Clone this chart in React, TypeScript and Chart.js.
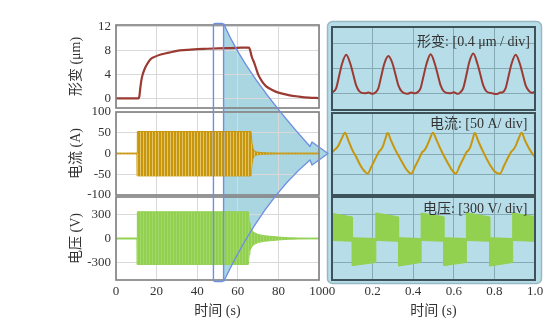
import React, { useEffect, useRef } from "react";
import { Chart, registerables } from "chart.js";

Chart.register(...registerables);

const SERIF = "'Liberation Serif', 'Noto Sans CJK SC', serif";
const TEXT = "#333333";

// ---------- left: whole record, 0–100 s ----------
const STRAIN_T = [0, 5, 10, 11, 11.5, 12, 12.5, 13, 14, 15, 17, 19, 22, 26, 30, 35, 40, 45, 50, 55, 60, 63, 65.5, 66, 66.5, 67, 68, 69, 70, 71, 72, 74, 77, 80, 85, 90, 95, 100];
const STRAIN_V = [0, 0, 0, 0, 0.3, 1.8, 3.0, 3.8, 4.8, 5.5, 6.5, 6.9, 7.3, 7.6, 7.9, 8.05, 8.2, 8.25, 8.3, 8.35, 8.4, 8.45, 8.45, 8.1, 7.4, 6.8, 6.0, 5.0, 4.0, 3.35, 2.8, 2.0, 1.4, 0.95, 0.55, 0.3, 0.12, 0.05];

const CURRENT_ENV_T = [0, 10.4, 10.5, 66.5, 67, 67.5, 68, 69, 70, 72, 75, 80, 90, 100];
const CURRENT_ENV_UP = [1, 1, 53, 53, 25, 12, 7, 4, 3, 2, 1.5, 1, 1, 1];
const CURRENT_ENV_LO = [-1, -1, -54, -54, -25, -12, -7, -4, -3, -2, -1.5, -1, -1, -1];

const VOLT_ENV_T = [0, 10.4, 10.5, 65.2, 65.6, 66, 67, 68, 70, 73, 76, 80, 85, 90, 95, 100];
const VOLT_ENV_UP = [6, 6, 335, 335, 200, 150, 100, 75, 50, 35, 28, 18, 10, 6, 5, 5];
const VOLT_ENV_LO = [-6, -6, -325, -325, -200, -150, -100, -75, -50, -35, -28, -18, -10, -6, -5, -5];

// ---------- right: detail, 0–1 s ----------
const ZSTRAIN_T = [0, 0.02, 0.035, 0.05, 0.07, 0.09, 0.105, 0.12, 0.135, 0.16, 0.18, 0.2, 0.213, 0.228, 0.243, 0.258, 0.278, 0.298, 0.313, 0.328, 0.343, 0.37, 0.39, 0.41, 0.421, 0.436, 0.451, 0.466, 0.486, 0.506, 0.521, 0.536, 0.551, 0.58, 0.6, 0.62, 0.631, 0.646, 0.661, 0.676, 0.696, 0.716, 0.731, 0.746, 0.761, 0.79, 0.81, 0.83, 0.84, 0.855, 0.87, 0.885, 0.905, 0.925, 0.94, 0.955, 0.97, 0.985, 1.0];
const ZSTRAIN_V = [0.03, 0.2, 0.7, 1.2, 1.55, 1.2, 0.75, 0.3, 0.08, 0.0, 0.03, -0.02, 0.03, 0.2, 0.7, 1.2, 1.5, 1.2, 0.75, 0.3, 0.08, -0.02, 0.03, 0.0, 0.04, 0.2, 0.7, 1.2, 1.57, 1.2, 0.75, 0.3, 0.08, 0.0, 0.04, -0.02, 0.03, 0.2, 0.7, 1.25, 1.6, 1.2, 0.75, 0.3, 0.08, 0.0, -0.03, 0.03, 0.04, 0.2, 0.7, 1.2, 1.55, 1.2, 0.75, 0.3, 0.1, 0.02, 0.07];

const ZCURRENT_T = [0, 0.012, 0.022, 0.035, 0.05, 0.064, 0.08, 0.1, 0.12, 0.14, 0.16, 0.175, 0.195, 0.215, 0.232, 0.24, 0.25, 0.262, 0.274, 0.29, 0.31, 0.33, 0.35, 0.37, 0.39, 0.41, 0.43, 0.445, 0.455, 0.465, 0.48, 0.497, 0.515, 0.535, 0.555, 0.575, 0.595, 0.609, 0.63, 0.65, 0.663, 0.672, 0.682, 0.693, 0.703, 0.72, 0.74, 0.76, 0.78, 0.8, 0.827, 0.848, 0.868, 0.882, 0.892, 0.903, 0.918, 0.934, 0.95, 0.97, 0.985, 1.0];
const ZCURRENT_V = [4, 10, 14, 24, 40, 52, 34, 10, -8, -28, -42, -48, -30, -10, 6, 10, 18, 36, 51, 34, 12, -6, -24, -40, -48, -30, -10, 5, 9, 17, 34, 52, 34, 12, -8, -26, -42, -48, -28, -8, 5, 9, 18, 36, 51, 32, 10, -10, -28, -42, -48, -28, -8, 5, 10, 18, 36, 52, 34, 14, 2, -7];

const ZVOLT_T = [0, 0.1, 0.1, 0.216, 0.216, 0.328, 0.328, 0.439, 0.439, 0.551, 0.551, 0.662, 0.662, 0.777, 0.777, 0.89, 0.89, 1.0];
const ZVOLT_UP = [315, 270, 10, 0, 320, 270, 10, 0, 320, 272, 10, 0, 322, 270, 10, 0, 320, 275];
const ZVOLT_LO = [-25, -35, -340, -300, -25, -35, -345, -300, -25, -35, -340, -300, -25, -35, -345, -300, -25, -35];

// ---------- ticks / labels ----------
const LEFT_X_RANGE = [0, 100];
const LEFT_X_STEP = 20;
const RIGHT_X_RANGE = [0, 1];
const RIGHT_X_STEP = 0.2;
const RIGHT_X_TICK_LABELS = ["0", "0.2", "0.4", "0.6", "0.8", "1.0"];
const STRAIN_RANGE = [-1.6, 12.2];
const STRAIN_STEP = 4;
const CURRENT_RANGE = [-100, 100];
const CURRENT_STEP = 50;
const VOLT_RANGE = [-520, 520];
const VOLT_STEP = 300;
const ZSTRAIN_RANGE = [-0.67, 2.67];
const ZSTRAIN_STEP = 1;
const ZOOM_START = 48;
const ZOOM_END = 53;
const Y_TITLES = ["形变 (μm)", "电流 (A)", "电压 (V)"];
const X_TITLE = "时间 (s)";
const PANEL_LABELS = ["形变: [0.4 μm / div]", "电流: [50 A/ div]", "电压: [300 V/ div]"];

const STRAIN_COLOR = "#9b3a33";
const CURRENT_COLOR = "#c8960c";
const VOLT_COLOR = "#92d050";

const pts = (t: number[], v: number[]) => t.map((x, i) => ({ x, y: v[i] }));

const framePlugin = (color: string, width: number) => ({
  id: "frame",
  afterDraw(chart: any) {
    const { ctx, chartArea } = chart;
    const { left, top, right, bottom } = chartArea;
    ctx.save();
    ctx.strokeStyle = color;
    ctx.lineWidth = width;
    ctx.strokeRect(left, top, right - left, bottom - top);
    ctx.restore();
  },
});

function leftY(range: number[], step: number, title: string) {
  return {
    type: "linear",
    min: range[0],
    max: range[1],
    afterFit: (s: any) => {
      s.width = 116;
    },
    ticks: { stepSize: step, includeBounds: false, padding: 5, color: TEXT, font: { family: SERIF, size: 13 } },
    grid: { color: "#d9d9d9", drawTicks: false },
    border: { display: false },
    title: { display: true, text: title, color: TEXT, font: { family: SERIF, size: 14 }, padding: { top: 68, bottom: 0 } },
  };
}

function rightY(range: number[], step: number) {
  return {
    type: "linear",
    min: range[0],
    max: range[1],
    afterFit: (s: any) => {
      s.width = 0;
    },
    ticks: { display: false, stepSize: step, includeBounds: false },
    grid: { color: "#86aab3", drawTicks: false },
    border: { display: false },
  };
}

function xAxis(range: number[], step: number, labelled: boolean, gridColor: string, labels?: string[]) {
  return {
    type: "linear",
    min: range[0],
    max: range[1],
    afterFit: (s: any) => {
      s.height = labelled ? 46 : 0;
    },
    ticks: {
      display: labelled,
      stepSize: step,
      padding: 4,
      color: TEXT,
      font: { family: SERIF, size: 13 },
      maxRotation: 0,
      autoSkip: false,
      callback: (v: number, i: number) => (labels ? labels[i] : String(v)),
    },
    grid: { color: gridColor, drawTicks: false },
    border: { display: false },
    title: labelled
      ? { display: true, text: X_TITLE, color: TEXT, font: { family: SERIF, size: 14 }, padding: { top: 0, bottom: 6 } }
      : { display: false },
  };
}

function config(datasets: any[], x: any, y: any, padding: any, frame: any) {
  return {
    type: "line",
    data: { datasets },
    options: {
      animation: false,
      responsive: false,
      maintainAspectRatio: false,
      devicePixelRatio: 1,
      events: [],
      layout: { padding },
      elements: { point: { radius: 0 }, line: { tension: 0 } },
      plugins: { legend: { display: false }, tooltip: { enabled: false }, title: { display: false } },
      scales: { x, y },
    },
    plugins: [frame],
  };
}

const LEFT_GRID = "#d9d9d9";
const RIGHT_GRID = "#86aab3";
const leftFrame = framePlugin("#858585", 1.7);
const rightFrame = framePlugin("#3e5359", 2);

// vertical striping to mimic the densely sampled oscillation
function stripes(base: string, gap: string) {
  const c = document.createElement("canvas");
  c.width = 3;
  c.height = 1;
  const g = c.getContext("2d")!;
  g.fillStyle = base;
  g.fillRect(0, 0, 2, 1);
  g.fillStyle = gap;
  g.fillRect(2, 0, 1, 1);
  return g.createPattern(c, "repeat");
}

function envelope(t: number[], up: number[], lo: number[], color: string, fillStyle: any) {
  return [
    { data: pts(t, up), borderColor: color, backgroundColor: fillStyle, borderWidth: 1, fill: "+1" },
    { data: pts(t, lo), borderColor: color, backgroundColor: fillStyle, borderWidth: 1, fill: false },
  ];
}

function buildConfigs() {
  const lx = (lab: boolean) => xAxis(LEFT_X_RANGE, LEFT_X_STEP, lab, LEFT_GRID);
  const rx = (lab: boolean) => xAxis(RIGHT_X_RANGE, RIGHT_X_STEP, lab, RIGHT_GRID, RIGHT_X_TICK_LABELS);
  const LP = (top: number, bottom: number) => ({ left: 0, right: 554 - 319, top, bottom });
  const RP = (top: number, bottom: number) => ({ left: 332, right: 554 - 535, top, bottom });
  const goldStripes = stripes(CURRENT_COLOR, "#e2c468");
  const greenStripes = stripes(VOLT_COLOR, "#a2d86a");
  return [
    config(
      [{ data: pts(STRAIN_T, STRAIN_V), borderColor: STRAIN_COLOR, borderWidth: 2.2, cubicInterpolationMode: "monotone", fill: false }],
      lx(false),
      leftY(STRAIN_RANGE, STRAIN_STEP, Y_TITLES[0]),
      LP(25, 326 - 108),
      leftFrame
    ),
    config(
      envelope(CURRENT_ENV_T, CURRENT_ENV_UP, CURRENT_ENV_LO, CURRENT_COLOR, goldStripes),
      lx(false),
      leftY(CURRENT_RANGE, CURRENT_STEP, Y_TITLES[1]),
      LP(112, 326 - 195),
      leftFrame
    ),
    config(
      envelope(VOLT_ENV_T, VOLT_ENV_UP, VOLT_ENV_LO, VOLT_COLOR, greenStripes),
      lx(true),
      leftY(VOLT_RANGE, VOLT_STEP, Y_TITLES[2]),
      LP(197, 0),
      leftFrame
    ),
    config(
      [{ data: pts(ZSTRAIN_T, ZSTRAIN_V), borderColor: STRAIN_COLOR, borderWidth: 2, cubicInterpolationMode: "monotone", fill: false }],
      rx(false),
      rightY(ZSTRAIN_RANGE, ZSTRAIN_STEP),
      RP(27, 326 - 110),
      rightFrame
    ),
    config(
      [{ data: pts(ZCURRENT_T, ZCURRENT_V), borderColor: CURRENT_COLOR, borderWidth: 2, cubicInterpolationMode: "monotone", fill: false }],
      rx(false),
      rightY(CURRENT_RANGE, CURRENT_STEP),
      RP(113, 326 - 195),
      rightFrame
    ),
    config(
      envelope(ZVOLT_T, ZVOLT_UP, ZVOLT_LO, VOLT_COLOR, VOLT_COLOR),
      rx(true),
      rightY(VOLT_RANGE, VOLT_STEP),
      RP(197, 0),
      rightFrame
    ),
  ];
}

function drawDecor(bg: HTMLCanvasElement, fg: HTMLCanvasElement, charts: any[]) {
  const [lt, lm, lb, rt, , rb] = charts;
  const xs = lb.scales.x;
  const x0 = xs.getPixelForValue(ZOOM_START);
  const x1 = xs.getPixelForValue(ZOOM_END);
  const yTop = lt.chartArea.top - 1.5;
  const yBot = lb.chartArea.bottom + 1.5;
  const midY = lm.scales.y.getPixelForValue(0);
  const pL = rt.chartArea.left - 5;
  const pR = rt.chartArea.right + 6;
  const pT = rt.chartArea.top - 6;
  const pB = rb.chartArea.bottom + 3;
  const tipX = pL + 1;

  const funnel = (ctx: CanvasRenderingContext2D, close: boolean) => {
    ctx.beginPath();
    ctx.moveTo(x1, yTop);
    ctx.quadraticCurveTo(x1 + 22, 75, tipX - 18, midY - 7);
    ctx.lineTo(tipX - 16, midY - 11.5);
    ctx.lineTo(tipX, midY);
    ctx.lineTo(tipX - 16, midY + 11.5);
    ctx.lineTo(tipX - 18, midY + 6.5);
    ctx.quadraticCurveTo(x1 + 39, 200, x1, yBot);
    if (close) ctx.closePath();
  };

  const b = bg.getContext("2d")!;
  b.clearRect(0, 0, bg.width, bg.height);
  b.beginPath();
  (b as any).roundRect(pL + 0.5, pT + 0.5, pR - pL, pB - pT, 5);
  b.fillStyle = "#b7dde8";
  b.fill();
  b.strokeStyle = "#97b9c3";
  b.lineWidth = 1.5;
  b.stroke();
  funnel(b, true);
  b.fillStyle = "#aad6e2";
  b.fill();

  const f = fg.getContext("2d")!;
  f.clearRect(0, 0, fg.width, fg.height);
  f.strokeStyle = "#6f8fe3";
  f.lineWidth = 1.4;
  f.lineJoin = "round";
  funnel(f, false);
  f.stroke();
  f.beginPath();
  (f as any).roundRect(x0, yTop, x1 - x0, yBot - yTop, 2);
  f.stroke();
}

const abs: React.CSSProperties = { position: "absolute", left: 0, top: 0, display: "block" };

export default function App() {
  const bgRef = useRef<HTMLCanvasElement | null>(null);
  const fgRef = useRef<HTMLCanvasElement | null>(null);
  const chartRefs = useRef<(HTMLCanvasElement | null)[]>([]);

  useEffect(() => {
    const cfgs = buildConfigs();
    const charts = cfgs.map((cfg, i) => new Chart(chartRefs.current[i]!, cfg as any));
    drawDecor(bgRef.current!, fgRef.current!, charts);
    return () => charts.forEach((c) => c.destroy());
  }, []);

  const labelPos = [
    { right: 554 - 530, cy: 41.5 },
    { right: 554 - 527.5, cy: 124 },
    { right: 554 - 527.5, cy: 208.5 },
  ];

  return (
    <div style={{ position: "fixed", left: 0, top: 0, width: 554, height: 326, background: "#ffffff", overflow: "hidden" }}>
      <canvas ref={bgRef} width={554} height={326} style={abs} />
      {[0, 1, 2, 3, 4, 5].map((i) => (
        <canvas
          key={i}
          ref={(el) => {
            chartRefs.current[i] = el;
          }}
          width={554}
          height={326}
          style={abs}
        />
      ))}
      <canvas ref={fgRef} width={554} height={326} style={{ ...abs, pointerEvents: "none" }} />
      {PANEL_LABELS.map((txt, i) => (
        <div
          key={txt}
          style={{
            position: "absolute",
            right: labelPos[i].right,
            top: labelPos[i].cy - 9,
            fontFamily: SERIF,
            fontSize: 14,
            lineHeight: "18px",
            color: TEXT,
            whiteSpace: "nowrap",
          }}
        >
          {txt}
        </div>
      ))}
    </div>
  );
}
